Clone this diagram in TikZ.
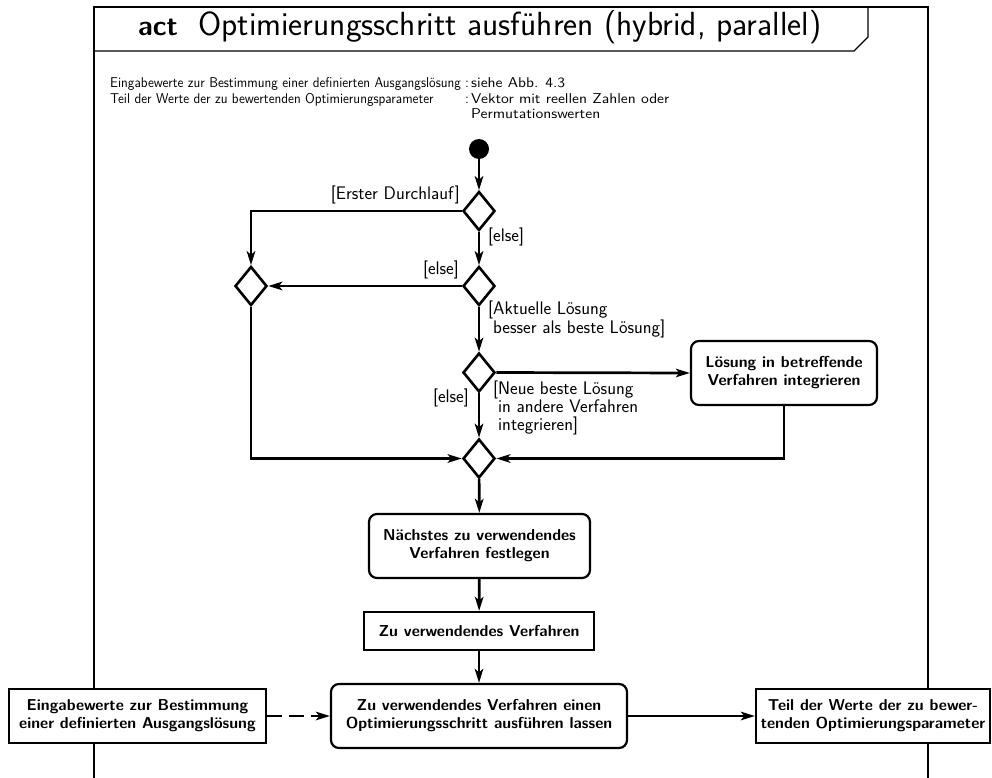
\documentclass[tikz,border=0pt]{standalone}
\usetikzlibrary{arrows.meta,shapes.geometric}
\newcommand\keytext[1]{\scalebox{0.95}[1]{#1}}
\newcommand\valtext[1]{\scalebox{1.12}[1]{#1}}
\begin{document}
\begin{tikzpicture}[x=1pt,y=-1pt,
  >={Stealth[length=14pt,width=8.5pt,inset=3.5pt]},
  frameline/.style={line width=2.7pt},
  titleline/.style={line width=1.2pt},
  flow/.style={line width=2.7pt,->},
  dataflow/.style={line width=2.7pt,->,dash pattern=on 15pt off 7pt},
  boxfont/.style={font=\sffamily\bfseries\fontsize{15.8}{18}\selectfont},
  actionbox/.style={draw,line width=2.2pt,rounded corners=8pt,fill=white,align=center,inner sep=0pt,boxfont},
  objbox/.style={draw,line width=2.2pt,fill=white,align=center,inner sep=0pt,boxfont},
  decision/.style={diamond,draw,line width=2.6pt,fill=white,minimum width=32pt,minimum height=39pt,inner sep=0pt},
  startnode/.style={circle,fill=black,minimum size=20pt,inner sep=0pt},
  guard/.style={font=\sffamily\fontsize{18.2}{18}\selectfont,align=left,inner sep=0pt},
  hdr/.style={font=\sffamily\fontsize{14.2}{15.5}\selectfont,inner sep=0pt,anchor=base west}
]
\useasboundingbox (0,0) rectangle (992,778);

% diagram frame and name compartment
\draw[frameline] (94,778) -- (94,7) -- (928,7) -- (928,778);
\draw[titleline] (94,51) -- (854,51) -- (868,37) -- (868,7);
\node[anchor=base,inner sep=0pt,font=\sffamily\bfseries\fontsize{28}{30}\selectfont] (kind) at (158,36) {act};
\node[anchor=base west,inner sep=0pt,font=\sffamily\fontsize{33.5}{36}\selectfont] (title) at (198,36) {Optimierungsschritt ausführen (hybrid, parallel)};

% parameter description
\node[hdr] (p1) at (110,88) {\keytext{Eingabewerte zur Bestimmung einer definierten Ausgangslösung}};
\node[hdr] (p1c) at (465,88) {:};
\node[hdr] (p1v) at (471,88) {\valtext{siehe Abb. 4.3}};
\node[hdr] (p2) at (110,103.5) {\keytext{Teil der Werte der zu bewertenden Optimierungsparameter}};
\node[hdr] (p2c) at (465,103.5) {:};
\node[hdr] (p2v) at (471,103.5) {\valtext{Vektor mit reellen Zahlen oder}};
\node[hdr] (p3v) at (471,119) {\valtext{Permutationswerten}};

% control nodes
\node[startnode] (init) at (479,149) {};
\node[decision] (d1) at (479,211) {};
\node[decision] (d2) at (479,286) {};
\node[decision] (dL) at (251,286) {};
\node[decision] (d3) at (479,372.5) {};
\node[decision] (d4) at (479,458.5) {};

% actions and objects
\node[actionbox,minimum width=186pt,minimum height=64pt] (L) at (784,373) {Lösung in betreffende\\Verfahren integrieren};
\node[actionbox,minimum width=221pt,minimum height=64pt] (N) at (479.5,546) {Nächstes zu verwendendes\\Verfahren festlegen};
\node[objbox,minimum width=230pt,minimum height=38pt] (Z) at (479,631) {Zu verwendendes Verfahren};
\node[actionbox,minimum width=296pt,minimum height=64pt] (M) at (479,716) {Zu verwendendes Verfahren einen\\Optimierungsschritt ausführen lassen};
\node[objbox,minimum width=257pt,minimum height=54pt] (E) at (137.5,716) {Eingabewerte zur Bestimmung\\einer definierten Ausgangslösung};
\node[objbox,minimum width=234pt,minimum height=54pt] (T) at (873,716) {Teil der Werte der zu bewer-\\tenden Optimierungsparameter};

% control flows
\draw[flow] (init) -- (d1);
\draw[flow] (d1.west) -| (dL.north);
\draw[flow] (d1) -- (d2);
\draw[flow] (d2.west) -- (dL.east);
\draw[flow] (d2) -- (d3);
\draw[flow] (d3.east) -- (L.west);
\draw[flow] (d3) -- (d4);
\draw[flow] (L.south) |- (d4.east);
\draw[flow] (dL.south) |- (d4.west);
\draw[flow] (d4) -- (N);
\draw[flow] (N) -- (Z);
\draw[flow] (Z) -- (M);
\draw[dataflow] (E) -- (M);
\draw[flow] (M) -- (T);

% guards
\node[guard,anchor=east] (g1) at (460,195) {[Erster Durchlauf]};
\node[guard,anchor=west] (g2) at (488,237) {[else]};
\node[guard,anchor=east] (g3) at (459,270) {[else]};
\node[guard,anchor=north west] (g4) at (488,301) {[Aktuelle Lösung\\\hphantom{[}besser als beste Lösung]};
\node[guard,anchor=north west] (g5) at (493,381) {[Neue beste Lösung\\\hphantom{[}in andere Verfahren\\\hphantom{[}integrieren]};
\node[guard,anchor=east] (g6) at (469,398) {[else]};
\end{tikzpicture}
\end{document}
